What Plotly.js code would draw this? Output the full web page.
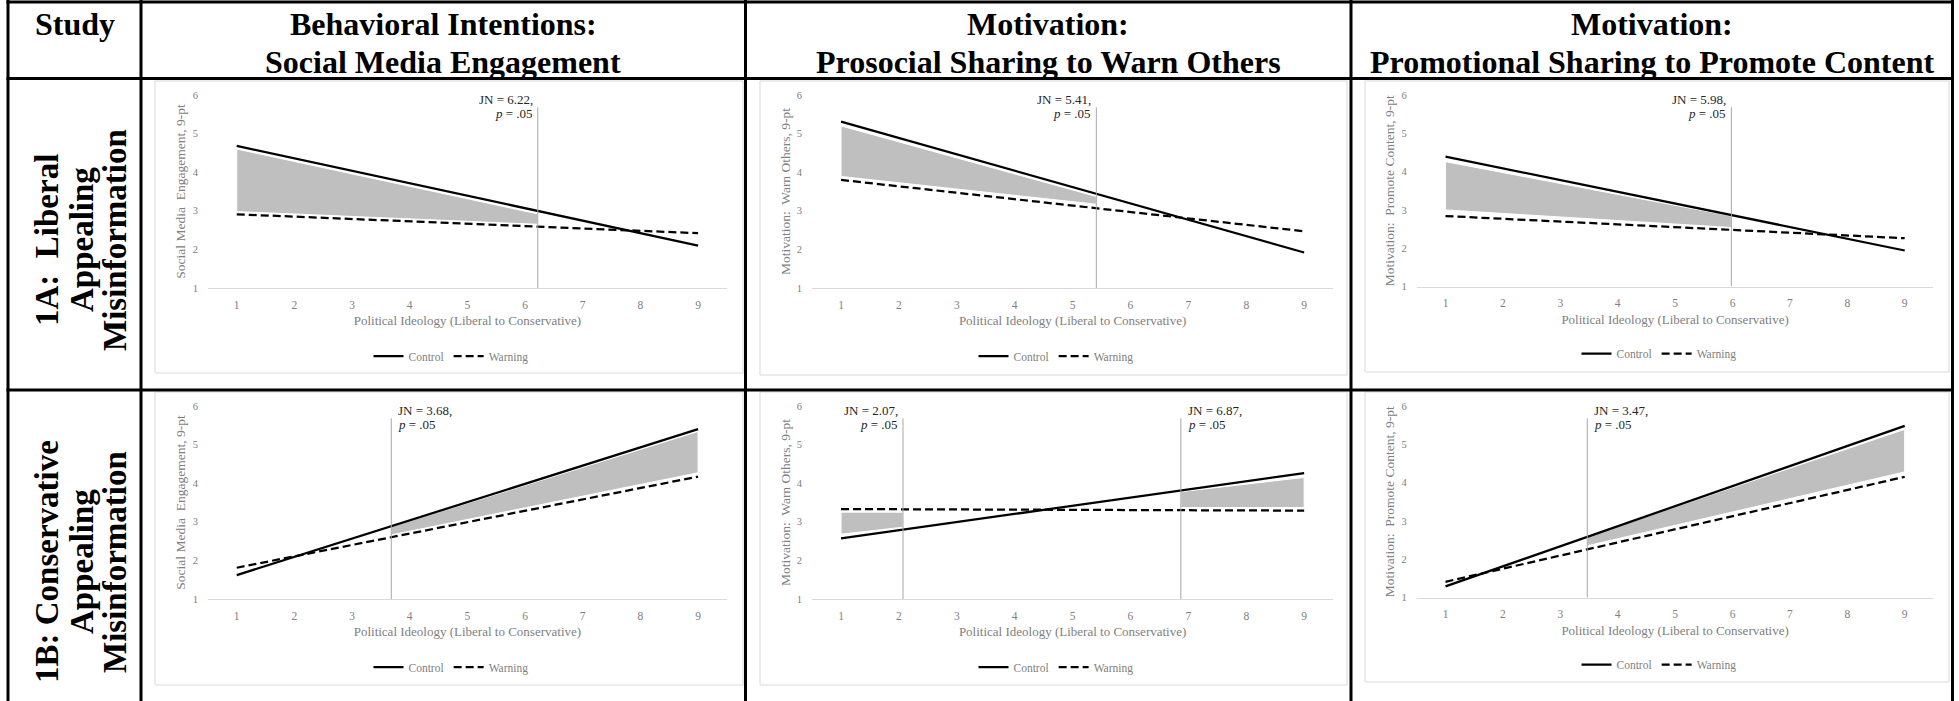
<!DOCTYPE html>
<html><head><meta charset="utf-8">
<script src="https://cdn.plot.ly/plotly-3.0.1.min.js"></script>
<style>html,body{margin:0;padding:0;background:#fff;}#chart{width:1959px;height:701px;}</style>
</head><body><div id="chart"></div>
<script>
// ---------------- DATA ----------------
const xPoints = [1, 9];
const xTicks = [1, 2, 3, 4, 5, 6, 7, 8, 9];
const yTicks = [1, 2, 3, 4, 5, 6];
const xTitle = 'Political Ideology (Liberal to Conservative)';
const seriesNames = ['Control', 'Warning'];

const colHeadLine1 = ['Study', 'Behavioral Intentions:', 'Motivation:', 'Motivation:'];
const colHeadLine2 = ['', 'Social Media Engagement', 'Prosocial Sharing to Warn Others', 'Promotional Sharing to Promote Content'];
const rowLabel1A = ['1A:\u00a0 Liberal', 'Appealing', 'Misinformation'];
const rowLabel1B = ['1B: Conservative', 'Appealing', 'Misinformation'];
const yTitles = ['Social Media  Engagement, 9-pt', 'Motivation:  Warn Others, 9-pt', 'Motivation:  Promote Content, 9-pt'];

// 1A: Liberal appealing misinformation
const control1A_engage = [4.68, 2.10];
const warning1A_engage = [2.91, 2.42];
const jn1A_engage = [6.22];
const shadeX1A_engage = [1, 6.22];
const shadeTop1A_engage = [4.60, 2.92];
const shadeBot1A_engage = [2.98, 2.65];

const control1A_warn = [5.31, 1.92];
const warning1A_warn = [3.80, 2.47];
const jn1A_warn = [5.41];
const shadeX1A_warn = [1, 5.41];
const shadeTop1A_warn = [5.20, 3.37];
const shadeBot1A_warn = [3.89, 3.17];

const control1A_promote = [4.39, 1.94];
const warning1A_promote = [2.84, 2.26];
const jn1A_promote = [5.98];
const shadeX1A_promote = [1, 5.98];
const shadeTop1A_promote = [4.26, 2.84];
const shadeBot1A_promote = [3.00, 2.54];

// 1B: Conservative appealing misinformation
const control1B_engage = [1.62, 5.40];
const warning1B_engage = [1.81, 4.17];
const jn1B_engage = [3.68];
const shadeX1B_engage = [3.68, 9];
const shadeTop1B_engage = [2.87, 5.34];
const shadeBot1B_engage = [2.66, 4.27];

const control1B_warn = [2.57, 4.26];
const warning1B_warn = [3.33, 3.29];
const jn1B_warn = [2.07, 6.87];
const shadeX1B_warn = [1, 2.07, 6.87, 9];
const shadeTop1B_warn = [3.25, 3.25, 3.78, 4.15];
const shadeBot1B_warn = [2.68, 2.86, 3.37, 3.37];

const control1B_promote = [1.29, 5.48];
const warning1B_promote = [1.41, 4.15];
const jn1B_promote = [3.47];
const shadeX1B_promote = [3.47, 9];
const shadeTop1B_promote = [2.59, 5.39];
const shadeBot1B_promote = [2.35, 4.28];

// ---------------- LAYOUT ----------------
const W = 1959, H = 701;
const SERIF = 'Liberation Serif, Times New Roman, serif';
const GRAY = '#808080';

const panels = [
  {row:0, col:0, c:control1A_engage, w:warning1A_engage, jn:jn1A_engage, sx:shadeX1A_engage, st:shadeTop1A_engage, sb:shadeBot1A_engage, side:['right']},
  {row:0, col:1, c:control1A_warn, w:warning1A_warn, jn:jn1A_warn, sx:shadeX1A_warn, st:shadeTop1A_warn, sb:shadeBot1A_warn, side:['right']},
  {row:0, col:2, c:control1A_promote, w:warning1A_promote, jn:jn1A_promote, sx:shadeX1A_promote, st:shadeTop1A_promote, sb:shadeBot1A_promote, side:['right']},
  {row:1, col:0, c:control1B_engage, w:warning1B_engage, jn:jn1B_engage, sx:shadeX1B_engage, st:shadeTop1B_engage, sb:shadeBot1B_engage, side:['left']},
  {row:1, col:1, c:control1B_warn, w:warning1B_warn, jn:jn1B_warn, sx:shadeX1B_warn, st:shadeTop1B_warn, sb:shadeBot1B_warn, side:['right','left']},
  {row:1, col:2, c:control1B_promote, w:warning1B_promote, jn:jn1B_promote, sx:shadeX1B_promote, st:shadeTop1B_promote, sb:shadeBot1B_promote, side:['left']}
];

// pixel geometry of plot areas
const colPx = [[207.9, 726.9], [812.1, 1333.1], [1416.8, 1933.4]];
const rowPx = [[95, 288], [406, 599]];
const colBottomAdj = [0, 0, -1.5];
const legendCx = [451, 1056, 1659];
const legendCy = [356, 667];
const legendCyAdj = [0, 0, -2.5];
const chartBoxes = [
  [155, 81, 743, 373], [760, 81, 1347, 375], [1365, 81, 1949, 372],
  [155, 392, 743, 685], [760, 392, 1347, 685], [1365, 392, 1949, 682]
];

const px = v => v / W;
const py = v => 1 - v / H;

const data = [];
const layout = {
  width: W, height: H, autosize: false,
  margin: {l: 0, r: 0, t: 0, b: 0, pad: 0},
  paper_bgcolor: '#ffffff', plot_bgcolor: 'rgba(0,0,0,0)',
  showlegend: true, hovermode: false,
  font: {family: SERIF, color: GRAY},
  shapes: [], annotations: []
};

panels.forEach((p, i) => {
  const n = i + 1;
  const sfx = n === 1 ? '' : String(n);
  const xr = 'x' + sfx, yr = 'y' + sfx;
  const legName = 'legend' + sfx;
  const [x0, x1] = colPx[p.col];
  const yT = rowPx[p.row][0];
  const yB = rowPx[p.row][1] + colBottomAdj[p.col];

  layout['xaxis' + sfx] = {
    domain: [px(x0), px(x1)], range: [0.5, 9.5], anchor: yr,
    tickmode: 'array', tickvals: xTicks, ticktext: xTicks.map(String),
    showgrid: false, zeroline: false, showline: true, linecolor: '#d9d9d9', linewidth: 1,
    ticks: '', ticklabelstandoff: 6, fixedrange: true,
    tickfont: {family: SERIF, size: 11.5, color: GRAY},
    title: {text: xTitle, font: {family: SERIF, size: 13, color: GRAY}, standoff: 6}
  };
  layout['yaxis' + sfx] = {
    domain: [py(yB), py(yT)], range: [1, 6], anchor: xr,
    tickmode: 'array', tickvals: yTicks,
    showgrid: false, zeroline: false, showline: false,
    ticks: '', ticklabelstandoff: 9, fixedrange: true,
    tickfont: {family: SERIF, size: 10.5, color: GRAY},
    title: {text: yTitles[p.col], font: {family: SERIF, size: 13.5, color: GRAY}, standoff: 3}
  };

  // shaded significance regions
  for (let k = 0; k < p.sx.length; k += 2) {
    data.push({
      type: 'scatter', mode: 'lines', xaxis: xr, yaxis: yr,
      x: [p.sx[k], p.sx[k + 1], p.sx[k + 1], p.sx[k], p.sx[k]],
      y: [p.st[k], p.st[k + 1], p.sb[k + 1], p.sb[k], p.st[k]],
      fill: 'toself', fillcolor: '#bfbfbf',
      line: {color: '#ffffff', width: 1},
      showlegend: false, hoverinfo: 'skip'
    });
  }
  data.push({
    type: 'scatter', mode: 'lines', xaxis: xr, yaxis: yr, name: seriesNames[0],
    x: xPoints, y: p.c, line: {color: '#000000', width: 2.25},
    legend: legName, showlegend: true
  });
  data.push({
    type: 'scatter', mode: 'lines', xaxis: xr, yaxis: yr, name: seriesNames[1],
    x: xPoints, y: p.w, line: {color: '#000000', width: 2.25, dash: '8px,4px'},
    legend: legName, showlegend: true
  });

  layout[legName] = {
    orientation: 'h', x: px(legendCx[p.col]), y: py(legendCy[p.row] + legendCyAdj[p.col]),
    xanchor: 'center', yanchor: 'middle', bgcolor: 'rgba(0,0,0,0)', borderwidth: 0,
    font: {family: SERIF, size: 11.5, color: GRAY}, itemwidth: 30, traceorder: 'normal'
  };

  // Johnson-Neyman lines and labels
  p.jn.forEach((v, j) => {
    layout.shapes.push({type: 'line', xref: xr, yref: yr, x0: v, x1: v, y0: 1, y1: 5.68,
      line: {color: '#a6a6a6', width: 1}});
    const right = p.side[j] === 'right';
    const common = {xref: xr, yref: yr, x: v, showarrow: false,
      xanchor: right ? 'right' : 'left', xshift: right ? -3 : 5, yanchor: 'middle',
      font: {family: SERIF, size: 13, color: '#262626'}};
    layout.annotations.push(Object.assign({}, common, {y: 5.88, text: 'JN = ' + v.toFixed(2) + ','}));
    layout.annotations.push(Object.assign({}, common, {y: 5.52, text: '<i>p</i> = .05'}));
  });
});

// chart-area borders
chartBoxes.forEach(b => layout.shapes.push({type: 'rect', xref: 'paper', yref: 'paper',
  x0: px(b[0]), x1: px(b[2]), y0: py(b[3]), y1: py(b[1]),
  line: {color: '#d9d9d9', width: 1}, fillcolor: 'rgba(0,0,0,0)', layer: 'below'}));

// table grid lines
const vLines = [8, 141, 745.5, 1351, 1952.5];
const hLines = [2, 78.5, 390];
vLines.forEach(x => layout.shapes.push({type: 'line', xref: 'paper', yref: 'paper',
  x0: px(x), x1: px(x), y0: py(0), y1: py(H), line: {color: '#000000', width: 3}}));
hLines.forEach(y => layout.shapes.push({type: 'line', xref: 'paper', yref: 'paper',
  x0: px(vLines[0] - 1.5), x1: px(vLines[4] + 1.5), y0: py(y), y1: py(y), line: {color: '#000000', width: 3}}));

// column headers
const colCx = [74.5, 443, 1048, 1652];
const HEAD_FONT = {family: SERIF, size: 32, color: '#000000'};
colHeadLine1.forEach((t, i) => {
  layout.annotations.push({xref: 'paper', yref: 'paper', x: px(colCx[i]), y: py(24),
    xanchor: 'center', yanchor: 'middle', showarrow: false, text: '<b>' + t + '</b>', font: HEAD_FONT});
  if (colHeadLine2[i]) layout.annotations.push({xref: 'paper', yref: 'paper', x: px(colCx[i]), y: py(61.5),
    xanchor: 'center', yanchor: 'middle', showarrow: false, text: '<b>' + colHeadLine2[i] + '</b>', font: HEAD_FONT});
});

// row labels (rotated)
const rowLineX = [47, 82, 115];
const rowCy = [240, 562];
[rowLabel1A, rowLabel1B].forEach((lines, r) => {
  lines.forEach((t, k) => layout.annotations.push({xref: 'paper', yref: 'paper',
    x: px(rowLineX[k]), y: py(rowCy[r]), xanchor: 'center', yanchor: 'middle', textangle: -90,
    showarrow: false, text: '<b>' + t + '</b>', font: {family: SERIF, size: 33, color: '#000000'}}));
});

Plotly.newPlot('chart', data, layout, {displayModeBar: false, staticPlot: true});
</script>
</body></html>
